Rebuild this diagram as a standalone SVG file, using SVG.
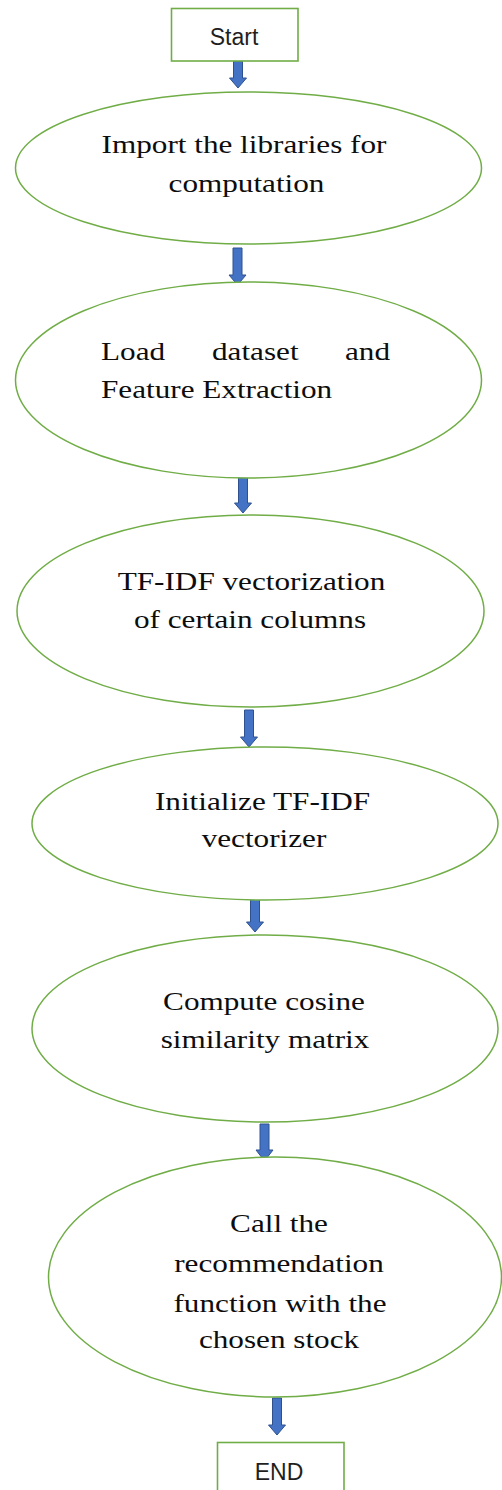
<svg xmlns="http://www.w3.org/2000/svg" width="502" height="1490" viewBox="0 0 502 1490">
  <style>
    .box { fill: #ffffff; stroke: #70AD47; stroke-width: 1.6; }
    .oval { fill: #ffffff; stroke: #70AD47; stroke-width: 1.5; }
    .arrow { fill: #4472C4; stroke: #2F528F; stroke-width: 1; stroke-linejoin: miter; }
    .sans { font-family: "Liberation Sans", Arial, sans-serif; font-size: 23px; fill: #1f1f1f; text-anchor: middle; }
    .serif { font-family: "Liberation Serif", "Times New Roman", serif; font-size: 26px; fill: #0d0d0d; text-anchor: middle; }
    .left { text-anchor: start; }
    .right { text-anchor: end; }
  </style>
  <rect width="502" height="1490" fill="#ffffff"/>

  <!-- block arrows between the steps -->
  <g id="connectors">
    <path class="arrow" d="M233.5,61 H242.5 V78 H246.5 L238,88 L229.5,78 H233.5 Z"/>
    <path class="arrow" d="M233,248 H242 V275 H246 L237.5,285 L229,275 H233 Z"/>
    <path class="arrow" d="M238.5,477 H247.5 V503 H251.5 L243,513 L234.5,503 H238.5 Z"/>
    <path class="arrow" d="M244.5,710 H253.5 V737 H257.5 L249,747 L240.5,737 H244.5 Z"/>
    <path class="arrow" d="M250.5,897 H259.5 V922 H263.5 L255,932 L246.5,922 H250.5 Z"/>
    <path class="arrow" d="M260,1124 H269 V1150 H273 L264.5,1161 L256,1150 H260 Z"/>
    <path class="arrow" d="M272.5,1398 H281.5 V1425 H285.5 L277,1435 L268.5,1425 H272.5 Z"/>
  </g>

  <g id="start">
    <rect class="box" x="171.5" y="8.5" width="126.5" height="52.5"/>
    <text class="sans" x="234" y="45" font-size="25">Start</text>
  </g>

  <g id="import-libraries">
    <ellipse class="oval" cx="248.5" cy="168" rx="233" ry="76"/>
    <text class="serif" transform="translate(244,153) scale(1.2,1)">Import the libraries for</text>
    <text class="serif" transform="translate(246.5,192) scale(1.2,1)">computation</text>
  </g>

  <g id="load-dataset">
    <ellipse class="oval" cx="248.5" cy="380" rx="233" ry="98"/>
    <text class="serif left" transform="translate(101,360) scale(1.2,1)">Load</text>
    <text class="serif left" transform="translate(212,360) scale(1.2,1)">dataset</text>
    <text class="serif right" transform="translate(390,360) scale(1.2,1)">and</text>
    <text class="serif left" transform="translate(101,398) scale(1.2,1)">Feature Extraction</text>
  </g>

  <g id="tfidf-columns">
    <ellipse class="oval" cx="250.5" cy="611" rx="233.5" ry="96"/>
    <text class="serif" transform="translate(251.5,590) scale(1.2,1)">TF-IDF vectorization</text>
    <text class="serif" transform="translate(250,628) scale(1.2,1)">of certain columns</text>
  </g>

  <g id="init-vectorizer">
    <ellipse class="oval" cx="265" cy="823.5" rx="233" ry="76.5"/>
    <text class="serif" transform="translate(262.5,810) scale(1.2,1)">Initialize TF-IDF</text>
    <text class="serif" transform="translate(264,847) scale(1.2,1)">vectorizer</text>
  </g>

  <g id="cosine-similarity">
    <ellipse class="oval" cx="265" cy="1028.5" rx="233" ry="93.5"/>
    <text class="serif" transform="translate(264,1010) scale(1.2,1)">Compute cosine</text>
    <text class="serif" transform="translate(265,1048) scale(1.2,1)">similarity matrix</text>
  </g>

  <g id="recommend">
    <ellipse class="oval" cx="275" cy="1277" rx="226.5" ry="120"/>
    <text class="serif" transform="translate(279,1232) scale(1.2,1)">Call the</text>
    <text class="serif" transform="translate(279,1272) scale(1.2,1)">recommendation</text>
    <text class="serif" transform="translate(280,1312) scale(1.2,1)">function with the</text>
    <text class="serif" transform="translate(279,1348) scale(1.2,1)">chosen stock</text>
  </g>

  <g id="end">
    <rect class="box" x="217.5" y="1442.5" width="126.5" height="60"/>
    <text class="sans" x="279" y="1480">END</text>
  </g>
</svg>
